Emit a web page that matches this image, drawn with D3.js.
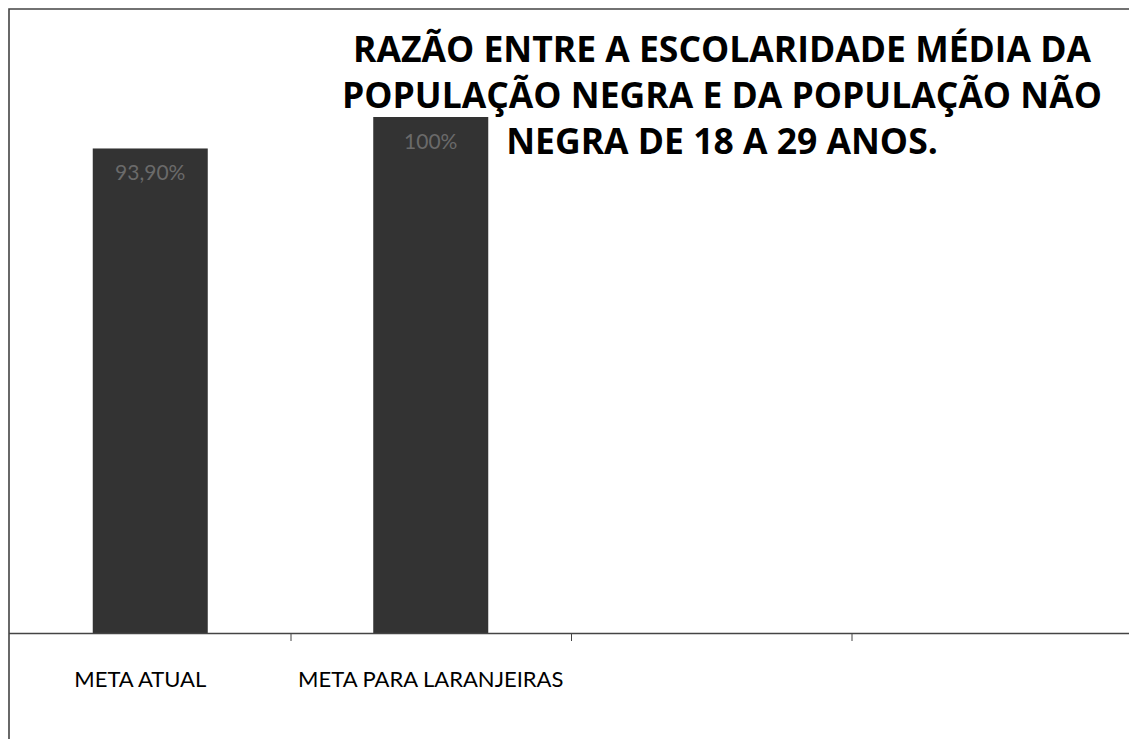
<!DOCTYPE html>
<html>
<head>
<meta charset="utf-8">
<script src="https://cdn.jsdelivr.net/npm/d3@7"></script>
<style>
  html, body { margin: 0; padding: 0; background: #fff; }
  svg { display: block; }
</style>
</head>
<body>
<div class="canvas"></div>
<script>
// chart data
const categories = ['META ATUAL', 'META PARA LARANJEIRAS', '', ''];
const values = [93.9, 100, null, null];
const valueLabels = ['93,90%', '100%', '', ''];
const titleLines = [
    'RAZÃO ENTRE A ESCOLARIDADE MÉDIA DA',
    'POPULAÇÃO NEGRA E DA POPULAÇÃO NÃO',
    'NEGRA DE 18 A 29 ANOS.'
];

const dims = { width: 1129, height: 739 };
const plot = { left: 10, right: 1132, top: 117, base: 633 };

const svg = d3.select('.canvas')
    .append('svg')
    .attr('width', dims.width)
    .attr('height', dims.height);

// frame (top + left edge of the chart area)
svg.append('path')
    .attr('d', `M9,${dims.height} V9 H${dims.width}`)
    .attr('fill', 'none')
    .attr('stroke', '#444')
    .attr('stroke-width', 1.6);

const idx = categories.map((d, i) => i);

const x = d3.scaleBand()
    .domain(idx)
    .range([plot.left, plot.right])
    .paddingInner(0.59)
    .paddingOuter(0.295);

// boundary scale for the tick marks between categories
const xEdge = d3.scaleLinear()
    .domain([0, categories.length])
    .range([plot.left, plot.right]);

const y = d3.scaleLinear()
    .domain([0, 100])
    .range([plot.base, plot.top]);

const data = idx.filter(i => values[i] != null)
    .map(i => ({ i, value: values[i], label: valueLabels[i] }));

// bars
svg.append('g').selectAll('rect')
    .data(data)
    .enter()
    .append('rect')
    .attr('x', d => x(d.i))
    .attr('y', d => y(d.value))
    .attr('width', x.bandwidth())
    .attr('height', d => y(0) - y(d.value))
    .attr('fill', '#333');

// value labels inside bars (barely visible in the scan)
svg.append('g').selectAll('text')
    .data(data)
    .enter()
    .append('text')
    .attr('x', d => x(d.i) + x.bandwidth() / 2)
    .attr('y', d => y(d.value) + 32)
    .attr('text-anchor', 'middle')
    .attr('font-family', 'Lato, "Open Sans", sans-serif')
    .attr('font-size', 21)
    .attr('fill', '#6a6a6a')
    .text(d => d.label);

// x axis
const xAxis = d3.axisBottom(xEdge)
    .tickValues(d3.range(1, categories.length))
    .tickSize(8)
    .tickSizeOuter(0)
    .tickFormat('');

const axisG = svg.append('g')
    .attr('transform', `translate(0,${plot.base})`)
    .call(xAxis);
axisG.select('.domain')
    .attr('d', `M9,0.5H${dims.width}`)
    .attr('stroke', '#444')
    .attr('stroke-width', 1.6);
axisG.selectAll('.tick line').attr('stroke', '#444');

// category labels
svg.append('g').selectAll('text')
    .data(idx.filter(i => categories[i]))
    .enter()
    .append('text')
    .attr('x', i => x(i) + x.bandwidth() / 2 - (i === 0 ? 10 : 0))
    .attr('y', 687)
    .attr('text-anchor', 'middle')
    .attr('font-family', 'Lato, "Open Sans", sans-serif')
    .attr('font-size', 22)
    .attr('fill', '#000')
    .text(i => categories[i]);

// title
const titleX = 722;
svg.append('g').selectAll('text')
    .data(titleLines)
    .enter()
    .append('text')
    .attr('x', titleX)
    .attr('y', (d, i) => 62 + i * 46)
    .attr('text-anchor', 'middle')
    .attr('font-family', '"Open Sans", Lato, sans-serif')
    .attr('font-weight', 'bold')
    .attr('font-size', 35.5)
    .attr('fill', '#000')
    .text(d => d);
</script>
</body>
</html>
